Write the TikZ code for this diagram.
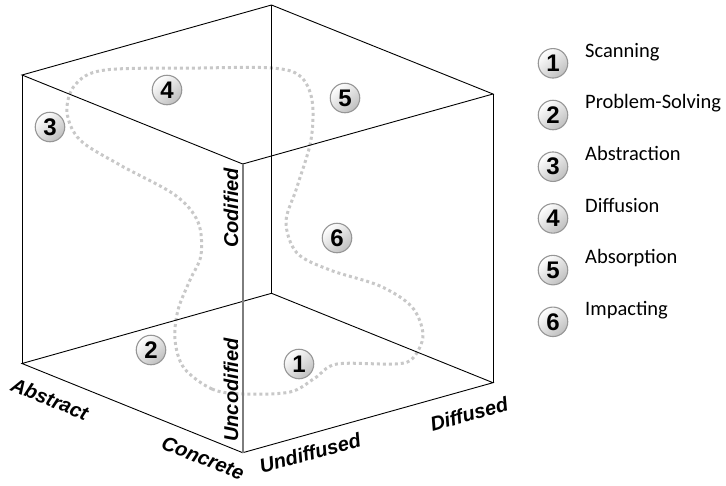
\documentclass[tikz,border=0pt]{standalone}
\usepackage{fontspec}
\setmainfont{Carlito}
\newfontfamily\axfont{Liberation Sans}
\usetikzlibrary{positioning}
\definecolor{dotgray}{RGB}{200,200,200}
\definecolor{rimgray}{RGB}{150,150,150}
\definecolor{edgegray}{RGB}{125,125,125}
\tikzset{
  cubeedge/.style={line width=0.9pt,black},
  frontedge/.style={line width=1.8pt,edgegray},
  flowpath/.style={dotgray,line width=3pt,dash pattern=on 3pt off 3pt},
  badge/.style={circle,draw=rimgray,line width=1.1pt,minimum size=29.5pt,inner sep=0pt,top color=white,bottom color=black!25,shading angle=40,font=\axfont\bfseries\fontsize{24}{24}\selectfont},
  axlab/.style={font=\axfont\bfseries\itshape\fontsize{20}{20}\selectfont,inner sep=0pt},
  legtxt/.style={font=\fontsize{20.5}{20.5}\selectfont,anchor=base west,inner sep=0pt}
}
\begin{document}
\begin{tikzpicture}[x=1pt,y=-1pt]
    \useasboundingbox (0,0) rectangle (726,485);
    \coordinate (tl) at (22,75);
    \coordinate (tb) at (271.5,5);
    \coordinate (tr) at (493,94);
    \coordinate (tf) at (242.7,164);
    \coordinate (bl) at (22,363.5);
    \coordinate (bb) at (271.5,293.3);
    \coordinate (br) at (493,382.7);
    \coordinate (bf) at (242.7,452.7);
    \draw[flowpath] plot[smooth cycle,tension=0.55] coordinates {(243,394) (212,389) (184,368) (175,340) (178,310) (190,280) (201,255) (198,222) (175,195) (120,165) (80,140) (67,112) (75,85) (105,70) (200,68) (272,68) (300,76) (312,100) (311,140) (297,187) (286,222) (297,253) (330,270) (380,286) (412,307) (423,335) (413,358) (395,364) (337,364) (315,378) (290,392)};
    \draw[cubeedge] (tl) -- (tb) -- (tr) -- (tf) -- cycle;
    \draw[cubeedge] (bl) -- (bb) -- (br) -- (bf) -- cycle;
    \draw[cubeedge] (tl) -- (bl);
    \draw[cubeedge] (tb) -- (bb);
    \draw[cubeedge] (tr) -- (br);
    \draw[frontedge] (tf) -- (bf);
    \node[axlab,rotate=90] (codif) at (231,208) {Codified};
    \node[axlab,rotate=90] (uncod) at (231,390) {Uncodified};
    \node[axlab,rotate=-22] (abstr) at (50,399) {Abstract};
    \node[axlab,rotate=-22] (concr) at (203,458) {Concrete};
    \node[axlab,rotate=15.6] (undif) at (310,453) {Undiffused};
    \node[axlab,rotate=15.6] (diffu) at (469,414) {Diffused};
    \foreach \n/\px/\py in {1/299/364,2/151/350,3/50/127,4/167/90,5/345/98,6/337/238}
      \node[badge] (b\n) at (\px,\py) {\n};
    \foreach \n/\txt [count=\i from 0] in {1/Scanning,2/Problem-Solving,3/Abstraction,4/Diffusion,5/Absorption,6/Impacting}{
      \node[badge] (k\n) at (553,{63.3+51.7*\i}) {\n};
      \node[legtxt] (t\n) at (585,{57+51.7*\i}) {\txt};
    }
\end{tikzpicture}
\end{document}
